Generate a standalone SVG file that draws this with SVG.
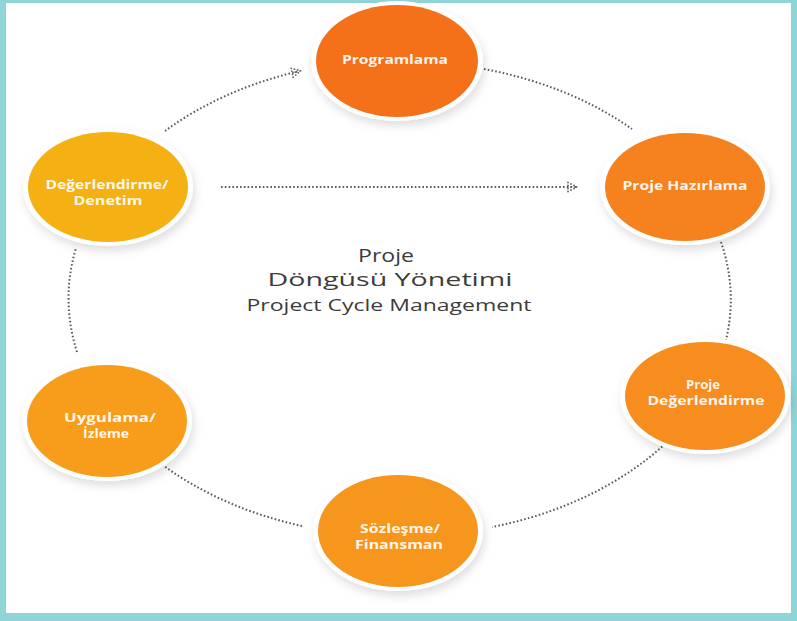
<svg xmlns="http://www.w3.org/2000/svg" width="797" height="621" viewBox="0 0 797 621">
<defs>
<filter id="sh" x="-30%" y="-30%" width="160%" height="170%">
<feDropShadow dx="2" dy="5" stdDeviation="5" flood-color="#000" flood-opacity="0.13"/>
</filter>
<marker id="arr" viewBox="0 0 12 12" refX="10" refY="6" markerWidth="12" markerHeight="12" markerUnits="userSpaceOnUse" orient="auto">
<g fill="#5f5f5f">
<circle cx="2" cy="1.5" r="0.9"/><circle cx="2" cy="4.5" r="0.9"/><circle cx="2" cy="7.5" r="0.9"/><circle cx="2" cy="10.5" r="0.9"/>
<circle cx="5" cy="3" r="0.9"/><circle cx="5" cy="6" r="0.9"/><circle cx="5" cy="9" r="0.9"/>
<circle cx="8" cy="4.5" r="0.9"/><circle cx="8" cy="7.5" r="0.9"/><circle cx="10.5" cy="6" r="0.9"/>
</g>
</marker>
</defs>
<style>
.con{fill:none;stroke:#5a5a5a;stroke-width:2;stroke-dasharray:1.6 2.2}
.halo{fill:#fff;filter:url(#sh)}
.lbl{font-family:"Open Sans","Liberation Sans",sans-serif;font-weight:bold;font-size:11.5px;fill:#fff;fill-opacity:0.93;text-anchor:middle}
.ttl{font-family:"Open Sans","Liberation Sans",sans-serif;fill:#3c3c3c;text-anchor:middle}
</style>
<rect width="797" height="621" fill="#8fd5d8"/>
<rect x="6" y="3" width="785" height="610" fill="#fff"/>

<g id="connectors">
<path class="con" d="M165,131 A330,238 0 0 1 300,71" marker-end="url(#arr)"/>
<path class="con" d="M484,69 A330,238 0 0 1 632,129"/>
<path class="con" d="M721,242 A330,238 0 0 1 726,340"/>
<path class="con" d="M665,444 A330,238 0 0 1 492,527"/>
<path class="con" d="M302,526 A330,238 0 0 1 160,463"/>
<path class="con" d="M77,352 A330,238 0 0 1 76,248"/>
<path class="con" d="M221,187 L576,187" marker-end="url(#arr)"/>
</g>

<g id="programlama">
<ellipse class="halo" cx="397" cy="61" rx="86" ry="60"/>
<ellipse cx="397" cy="61" rx="81" ry="56" fill="#f4711a"/>
<text class="lbl" x="395" y="64" textLength="106" lengthAdjust="spacingAndGlyphs">Programlama</text>
</g>

<g id="proje-hazirlama">
<ellipse class="halo" cx="685" cy="187" rx="85" ry="58"/>
<ellipse cx="685" cy="187" rx="80" ry="54" fill="#f5811f"/>
<text class="lbl" x="685" y="190" textLength="125" lengthAdjust="spacingAndGlyphs">Proje Hazırlama</text>
</g>

<g id="proje-degerlendirme">
<ellipse class="halo" cx="705" cy="396" rx="85" ry="58"/>
<ellipse cx="705" cy="396" rx="80" ry="54" fill="#f68d1e"/>
<text class="lbl" x="703" y="389" textLength="34" lengthAdjust="spacingAndGlyphs">Proje</text>
<text class="lbl" x="706" y="405" textLength="117" lengthAdjust="spacingAndGlyphs">Değerlendirme</text>
</g>

<g id="sozlesme-finansman">
<ellipse class="halo" cx="398" cy="531" rx="85" ry="60"/>
<ellipse cx="398" cy="531" rx="80" ry="56" fill="#f7961c"/>
<text class="lbl" x="400" y="533" textLength="80" lengthAdjust="spacingAndGlyphs">Sözleşme/</text>
<text class="lbl" x="399" y="549" textLength="88" lengthAdjust="spacingAndGlyphs">Finansman</text>
</g>

<g id="uygulama-izleme">
<ellipse class="halo" cx="107" cy="421" rx="85" ry="60"/>
<ellipse cx="107" cy="421" rx="80" ry="56" fill="#f79d1b"/>
<text class="lbl" x="110" y="422" textLength="92" lengthAdjust="spacingAndGlyphs">Uygulama/</text>
<text class="lbl" x="106" y="438" textLength="46" lengthAdjust="spacingAndGlyphs">İzleme</text>
</g>

<g id="degerlendirme-denetim">
<ellipse class="halo" cx="108" cy="187" rx="85" ry="59"/>
<ellipse cx="108" cy="187" rx="80" ry="55" fill="#f5b114"/>
<text class="lbl" x="107" y="189" textLength="123" lengthAdjust="spacingAndGlyphs">Değerlendirme/</text>
<text class="lbl" x="108" y="205" textLength="69" lengthAdjust="spacingAndGlyphs">Denetim</text>
</g>

<g id="title">
<text class="ttl" x="386" y="262" font-size="19" textLength="56" lengthAdjust="spacingAndGlyphs">Proje</text>
<text class="ttl" x="390" y="286" font-size="19" textLength="245" lengthAdjust="spacingAndGlyphs">Döngüsü Yönetimi</text>
<text class="ttl" x="389" y="311" font-size="15.5" textLength="285" lengthAdjust="spacingAndGlyphs">Project Cycle Management</text>
</g>
</svg>
